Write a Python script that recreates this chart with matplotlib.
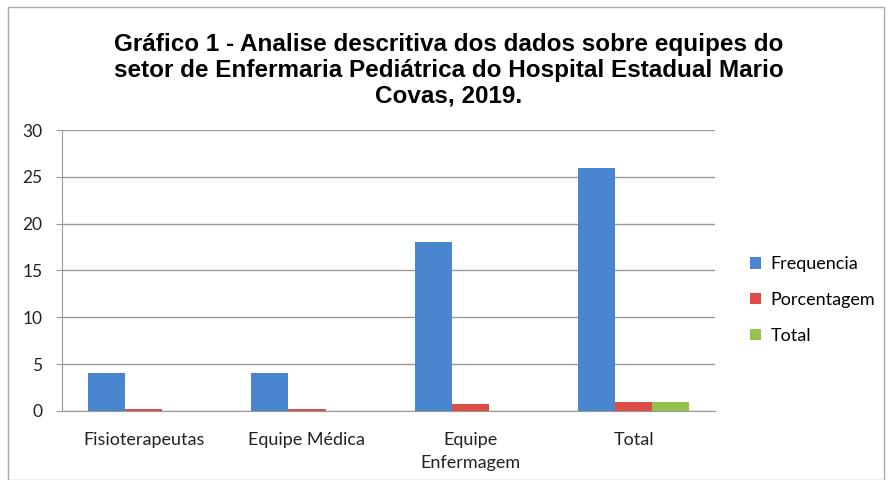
import matplotlib.pyplot as plt
import numpy as np
from matplotlib.patches import Rectangle

categorias = ["Fisioterapeutas", "Equipe Médica", "Equipe\nEnfermagem", "Total"]
frequencia = [4, 4, 18, 26]
porcentagem = [0.15, 0.15, 0.69, 1.0]
total = [0, 0, 0, 1.0]

azul = "#4a86d0"
vermelho = "#dc4e45"
verde = "#93c24f"

fig = plt.figure(figsize=(8.89, 4.8), dpi=100)
ax = fig.add_axes([0.0697, 0.144, 0.735, 0.585])

x = np.arange(len(categorias))
w = 0.227
ax.bar(x - w, frequencia, w, color=azul, label="Frequencia", zorder=3)
ax.bar(x, porcentagem, w, color=vermelho, label="Porcentagem", zorder=3)
ax.bar(x + w, total, w, color=verde, label="Total", zorder=3)

ax.set_xlim(-0.5, 3.5)
ax.set_ylim(0, 30)
ax.set_yticks(range(0, 31, 5))
ax.set_xticks(x)
ax.set_xticklabels(categorias, fontsize=13, family="Lato", color="#222222",
                   linespacing=1.55)
for lbl in ax.get_yticklabels():
    lbl.set_family("Lato")
    lbl.set_fontsize(12.5)
    lbl.set_color("#222222")
ax.tick_params(axis="x", length=0, pad=15)
ax.tick_params(axis="y", length=4, color="#999999", pad=10)
ax.grid(axis="y", color="#999999", linewidth=1, zorder=0)
for s in ["top", "right"]:
    ax.spines[s].set_visible(False)
for s in ["left", "bottom"]:
    ax.spines[s].set_color("#999999")

fig.suptitle("Gráfico 1 - Analise descritiva dos dados sobre equipes do\n"
             "setor de Enfermaria Pediátrica do Hospital Estadual Mario\n"
             "Covas, 2019.", x=0.505, y=0.932, fontsize=17.5, fontweight="bold",
             family="Liberation Sans", linespacing=1.17)

fig.legend(loc="center left", bbox_to_anchor=(0.825, 0.375), frameon=False,
           prop={"family": "Lato", "size": 13}, handlelength=0.6,
           handleheight=0.6, labelspacing=1.1, handletextpad=0.55)

fig.patches.append(Rectangle((0.009, 0.0), 0.985, 0.985, transform=fig.transFigure,
                             fill=False, edgecolor="#aaaaaa", linewidth=1))

plt.savefig("out.png")
